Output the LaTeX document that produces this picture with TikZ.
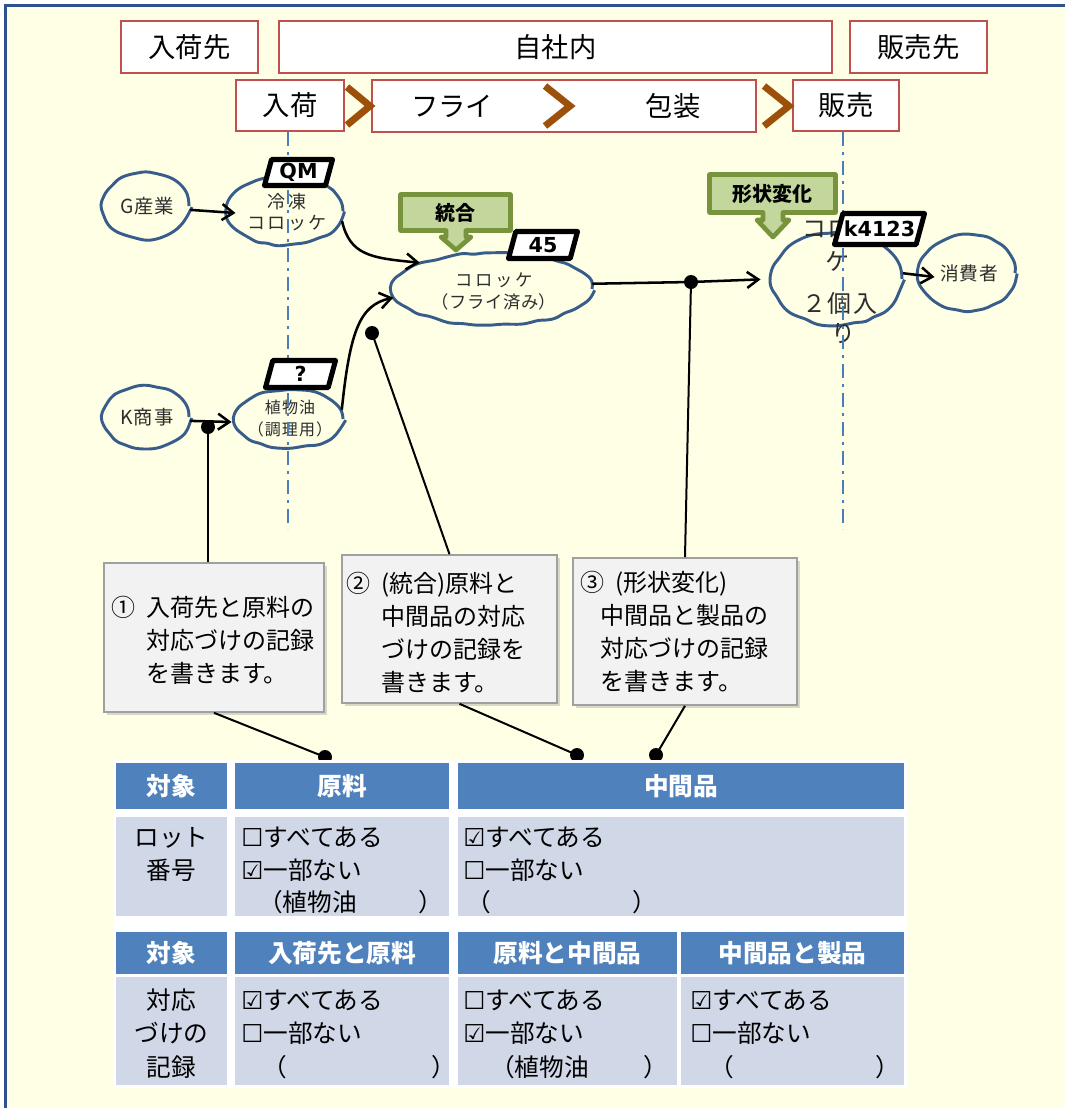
\documentclass[tikz,border=0pt]{standalone}
\usepackage{fontspec}
\setmainfont{Noto Sans CJK JP}
\newfontfamily\blobfont[LetterSpace=12]{Noto Sans CJK JP}
\newfontfamily\blobfontb[LetterSpace=4]{Noto Sans CJK JP}
\newfontfamily\blobfontc[LetterSpace=16]{Noto Sans CJK JP}
\newfontfamily\blobfontd[LetterSpace=3]{Noto Sans CJK JP}
\newfontfamily\blobfonte[LetterSpace=7]{Noto Sans CJK JP}
\newfontfamily\symfont{DejaVu Sans}
\usetikzlibrary{shapes.geometric,arrows.meta,decorations.pathmorphing,calc,shadows}
\definecolor{bgy}{RGB}{255,255,229}
\definecolor{framec}{RGB}{47,82,143}
\definecolor{redb}{RGB}{192,80,77}
\definecolor{chev}{RGB}{156,80,10}
\definecolor{blobc}{RGB}{56,93,138}
\definecolor{blobtext}{RGB}{45,45,45}
\definecolor{dashc}{RGB}{74,126,187}
\definecolor{greenb}{RGB}{119,147,60}
\definecolor{greenf}{RGB}{195,214,155}
\definecolor{noteb}{RGB}{160,160,160}
\definecolor{notef}{RGB}{242,242,242}
\definecolor{thead}{RGB}{79,129,189}
\definecolor{tbody}{RGB}{208,216,232}
\newcommand\mytag[6]{%
  \draw[tagline] (#2-#4/2+#5*0.27,#3-#5/2) -- (#2+#4/2,#3-#5/2) -- (#2+#4/2-#5*0.27,#3+#5/2) -- (#2-#4/2,#3+#5/2) -- cycle;
  \node[tagtext] (#1) at (#2,#3) {#6};}
\newcommand\mycb{{\symfont ☐}}
\newcommand\mycbon{{\symfont ☑}}
\newcommand\cgap{\hspace*{0.45em}}
\begin{document}
\begin{tikzpicture}[x=0.75pt,y=-0.75pt,
  hbox/.style={draw=redb, line width=1.6pt, fill=white, inner sep=0pt, font=\fontsize{20.5}{22}\selectfont},
  htext/.style={inner sep=0pt, font=\fontsize{20.5}{22}\selectfont},
  chevron/.style={draw=chev, line width=5.2pt, line join=miter, line cap=butt},
  blob/.style={ellipse, draw=blobc, fill=bgy, line width=2.2pt, inner sep=0pt, decorate, decoration={random steps, segment length=7pt, amplitude=1pt}, rounded corners=3.5pt},
  btxt/.style={inner sep=0pt, text=blobtext, align=center},
  dashln/.style={draw=dashc, line width=2.2pt, dash pattern=on 10.5pt off 4.5pt on 2.25pt off 4.5pt},
  conn/.style={draw=black, line width=1.9pt, -{Straight Barb[length=8.5pt, width=12pt]}},
  tagline/.style={draw=black, fill=white, line width=3.8pt, line join=round},
  tagtext/.style={inner sep=0pt, font=\symfont\bfseries\fontsize{15.5}{17}\selectfont},
  callout/.style={draw=greenb, fill=greenf, line width=3.5pt, line join=round},
  callouttxt/.style={inner sep=0pt, font=\bfseries\fontsize{15}{17}\selectfont},
  leader/.style={draw=black, line width=1.5pt},
  jdot/.style={circle, fill=black, inner sep=0pt, minimum size=10.5pt},
  note/.style={rectangle, draw=noteb, fill=notef, line width=1.2pt, drop shadow={shadow xshift=2.5pt, shadow yshift=-2.5pt, opacity=0.3}},
  notetxt/.style={anchor=west, inner sep=0pt, align=left, font=\fontsize{18}{24.75}\selectfont},
  th/.style={inner sep=0pt, text=white, font=\bfseries\fontsize{18.5}{20}\selectfont},
  tc/.style={inner sep=0pt, text height=16.3pt, text depth=2.2pt, font=\fontsize{18.5}{20}\selectfont},
  tl/.style={tc, anchor=west}]
\useasboundingbox (0,0) rectangle (1065,1108);
\fill[white] (0,0) rectangle (1065,1108);
\fill[bgy] (5.5,5.5) rectangle (1070,1115);
\draw[framec, line width=2pt] (5.5,1115) -- (5.5,5.5) -- (1070,5.5);

% header boxes
\node[hbox, minimum width=102.75pt, minimum height=39pt] (src) at (189.5,47) {入荷先};
\node[hbox, minimum width=414.75pt, minimum height=39pt] (inh) at (555.5,47) {自社内};
\node[hbox, minimum width=102.75pt, minimum height=39pt] (dst) at (918.5,47) {販売先};
\node[hbox, minimum width=81pt, minimum height=38.25pt] (inbox) at (290,105.5) {入荷};
\node[hbox, minimum width=288pt, minimum height=39pt] (proc) at (564,106) {};
\node[htext] (fry) at (452,106) {フライ};
\node[htext] (pkg) at (673,106) {包装};
\node[hbox, minimum width=79.5pt, minimum height=38.25pt] (sales) at (846,105.5) {販売};
\draw[chevron] (347,87) -- (370,106) -- (347,125);
\draw[chevron] (545,86) -- (570,106) -- (545,126);
\draw[chevron] (764,86) -- (789,106) -- (764,126);

% blobs
\node[blob, minimum width=64.5pt, minimum height=49.5pt] (g) at (146,206) {};
\node[btxt, font=\blobfontb\fontsize{14.5}{15}\selectfont] (gt) at (147,206) {G産業};
\node[blob, minimum width=87pt, minimum height=51pt] (rei) at (285,211) {};
\node[btxt, font=\blobfont\fontsize{13.5}{15.5}\selectfont] (reit) at (287,212) {冷凍\\コロッケ};
\node[blob, minimum width=64.5pt, minimum height=46.5pt] (k) at (146,417) {};
\node[btxt, font=\blobfontb\fontsize{14.5}{15}\selectfont] (kt) at (147,417) {K商事};
\node[blob, minimum width=81pt, minimum height=43.5pt] (oil) at (289,419) {};
\node[btxt, font=\blobfonte\fontsize{12}{16.5}\selectfont] (oilt) at (290,419) {植物油\\（調理用）};
\node[blob, minimum width=150pt, minimum height=54pt] (fr) at (492,289) {};
\node[btxt, font=\blobfontd\fontsize{13}{16.5}\selectfont] (frt) at (494,291) {{\blobfontc コロッケ}\\（フライ済み）};
\node[blob, minimum width=97.5pt, minimum height=69pt] (pack) at (837,279) {};
\node[btxt, font=\blobfonte\fontsize{18}{20}\selectfont] (pk1) at (840,230) {コロッ};
\node[btxt, font=\blobfonte\fontsize{18}{20}\selectfont] (pk2) at (837,261) {ケ};
\node[btxt, font=\blobfonte\fontsize{18}{20}\selectfont] (pk3) at (840,303) {２個入};
\node[btxt, font=\blobfonte\fontsize{18}{20}\selectfont] (pk4) at (843,334) {り};
\node[blob, minimum width=72pt, minimum height=57pt] (con) at (967,273) {};
\node[btxt, font=\blobfontb\fontsize{14}{15}\selectfont] (cont) at (969,273) {消費者};

% guide lines
\draw[dashln] ($(inbox.south)+(-2,0)$) -- ++(0,397);
\draw[dashln] ($(sales.south)+(-3,0)$) -- ++(0,397);

% connectors
\draw[conn] (g.-5) -- ($(rei.west)+(10,2)$);
\draw[conn] (k.-5) -- ($(oil.west)+(-2,3)$);
\draw[conn] (rei.-10) .. controls (350,255) and (370,258) .. (fr.160);
\draw[conn] (oil.10) .. controls (350,330) and (360,305) .. (fr.185);
\coordinate (j3c) at (691,282);
\draw[conn, shorten >=7.5pt] (fr.3) -- (j3c) -- (pack.west);
\draw[conn] (pack.5) -- ($(con.west)+(17,4)$);

% tags
\mytag{tqm}{298.5}{172.5}{68}{26}{QM}
\mytag{tq}{300.5}{374}{70}{27}{?}
\mytag{t45}{543}{245}{69}{27}{45}
\mytag{tk}{879.5}{229}{90}{31}{k4123}

% callouts
\draw[callout] (400.5,194.5) -- (510.5,194.5) -- (510.5,230.5) -- (466,230.5) -- (466,237) -- (471,237) -- (456,250) -- (441,237) -- (446,237) -- (446,230.5) -- (400.5,230.5) -- cycle;
\node[callouttxt] (cb1) at (455.5,212.5) {統合};
\draw[callout] (709.5,174.5) -- (835.5,174.5) -- (835.5,212.5) -- (783,212.5) -- (783,220) -- (789,220) -- (773,237) -- (757,220) -- (763,220) -- (763,212.5) -- (709.5,212.5) -- cycle;
\node[callouttxt] (cb2) at (772.5,193.5) {形状変化};

% note boxes
\node[note, minimum width=165pt, minimum height=111.75pt] (b1) at (214,637.5) {};
\node[note, minimum width=161.25pt, minimum height=111pt] (b2) at (449.5,629) {};
\node[note, minimum width=168pt, minimum height=110.25pt] (b3) at (685,631.5) {};
\node[notetxt] (n1) at (111,640) {①\cgap 入荷先と原料の\\\hphantom{①\cgap}対応づけの記録\\\hphantom{①\cgap}を書きます。};
\node[notetxt] (n2) at (346,632.5) {②\cgap(統合)原料と\\\hphantom{②\cgap}中間品の対応\\\hphantom{②\cgap}づけの記録を\\\hphantom{②\cgap}書きます。};
\node[notetxt] (n3) at (580,632) {③\cgap(形状変化)\\\hspace*{0.85em}中間品と製品の\\\hspace*{0.85em}対応づけの記録\\\hspace*{0.85em}を書きます。};

% leaders
\node[jdot] (j1) at (208,427) {};
\node[jdot] (j2) at (372,333) {};
\node[jdot] (j3) at (j3c) {};
\node[jdot] (jb1) at (325,757) {};
\node[jdot] (jb2) at (577,755) {};
\node[jdot] (jb3) at (656,755) {};
\draw[leader] (j1.center) -- (j1 |- b1.north);
\draw[leader] (j2.center) -- (b2.north);
\draw[leader] (j3.center) -- (b3.north);
\draw[leader] (b1.south) -- (jb1.center);
\draw[leader] ($(b2.south)+(10,0)$) -- (jb2.center);
\draw[leader] (b3.south) -- (jb3.center);

% table
\fill[white] (113,760) rectangle (907,1088);
\fill[thead] (116,763) rectangle (227,809);
\fill[thead] (235,763) rectangle (449,809);
\fill[thead] (458,763) rectangle (904,809);
\fill[tbody] (116,817) rectangle (227,916);
\fill[tbody] (235,817) rectangle (449,916);
\fill[tbody] (458,817) rectangle (904,916);
\fill[thead] (116,932) rectangle (227,974);
\fill[thead] (235,932) rectangle (449,974);
\fill[thead] (458,932) rectangle (677,974);
\fill[thead] (681,932) rectangle (904,974);
\fill[tbody] (116,977) rectangle (227,1085);
\fill[tbody] (235,977) rectangle (449,1085);
\fill[tbody] (458,977) rectangle (677,1085);
\fill[tbody] (681,977) rectangle (904,1085);

\node[th] (h1a) at (171.5,786) {対象};
\node[th] (h1b) at (342,786) {原料};
\node[th] (h1c) at (681,786) {中間品};
\node[tc] (c1a1) at (171.5,837) {ロット};
\node[tc] (c1a2) at (171.5,870) {番号};
\node[tl] (c1b1) at (241,837) {\mycb すべてある};
\node[tl] (c1b2) at (241,870) {\mycbon 一部ない};
\node[tl] (c1b3) at (258,902) {（植物油};
\node[tl] (c1b4) at (418,902) {）};
\node[tl] (c1c1) at (463,837) {\mycbon すべてある};
\node[tl] (c1c2) at (463,870) {\mycb 一部ない};
\node[tl] (c1c3) at (466,902) {（};
\node[tl] (c1c4) at (632,902) {）};

\node[th] (h2a) at (171.5,953) {対象};
\node[th] (h2b) at (342,953) {入荷先と原料};
\node[th] (h2c) at (567.5,953) {原料と中間品};
\node[th] (h2d) at (792.5,953) {中間品と製品};
\node[tc] (c2a1) at (171.5,1000) {対応};
\node[tc] (c2a2) at (171.5,1033) {づけの};
\node[tc] (c2a3) at (171.5,1067) {記録};
\node[tl] (c2b1) at (241,1000) {\mycbon すべてある};
\node[tl] (c2b2) at (241,1033) {\mycb 一部ない};
\node[tl] (c2b3) at (262,1067) {（};
\node[tl] (c2b4) at (431,1067) {）};
\node[tl] (c2c1) at (463,1000) {\mycb すべてある};
\node[tl] (c2c2) at (463,1033) {\mycbon 一部ない};
\node[tl] (c2c3) at (490,1067) {（植物油};
\node[tl] (c2c4) at (643,1067) {）};
\node[tl] (c2d1) at (690,1000) {\mycbon すべてある};
\node[tl] (c2d2) at (690,1033) {\mycb 一部ない};
\node[tl] (c2d3) at (709,1067) {（};
\node[tl] (c2d4) at (875,1067) {）};
\end{tikzpicture}
\end{document}
